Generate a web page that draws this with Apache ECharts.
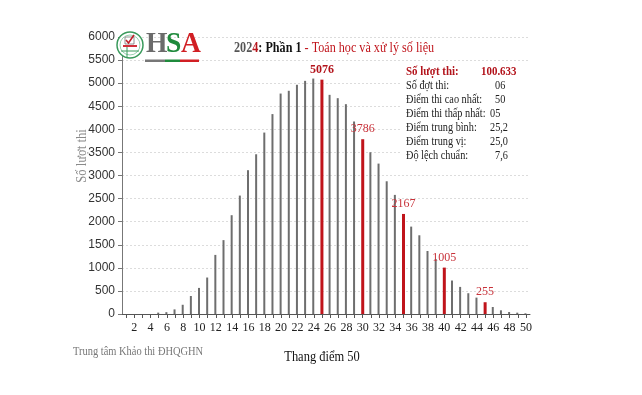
<!DOCTYPE html>
<html><head><meta charset="utf-8">
<script src="https://cdn.jsdelivr.net/npm/echarts@6/dist/echarts.min.js"></script>
<style>html,body{margin:0;padding:0;background:#fff}#c{width:642px;height:395px}</style>
</head><body><div id="c"></div>
<script>
const scores = [];
for (let i = 1; i <= 50; i++) scores.push(String(i));
const counts = [0,0,0,0,30,40,100,200,390,565,790,1280,1600,2140,2565,3115,3460,3930,4330,4775,4835,4965,5050,5100,5076,4747,4675,4545,4170,3786,3504,3258,2875,2580,2167,1893,1705,1365,1192,1005,725,587,450,355,255,152,80,43,29,15];
const highlighted = ['25','30','35','40','45'];
const yTicks = [0,500,1000,1500,2000,2500,3000,3500,4000,4500,5000,5500,6000];
const statLabels = ['Số lượt thi:','Số đợt thi:','Điểm thi cao nhất:','Điểm thi thấp nhất:','Điểm trung bình:','Điểm trung vị:','Độ lệch chuẩn:'];
const statValues = ['100.633','06','50','05','25,2','25,0','7,6'];

const serif = '"Liberation Serif", "DejaVu Serif", serif';
const grayData = scores.map((s,i)=> highlighted.includes(s) ? '-' : counts[i]);
const redData = scores.map((s,i)=> highlighted.includes(s)
  ? (s==='25' ? {value:counts[i], label:{fontWeight:'bold', color:'#b3141c', fontSize:12}} : counts[i])
  : '-');

const valueX = [481,495,495,490,490,490,495];
const graphics = [
  {type:'rect', shape:{x:400,y:63,width:128,height:100}, style:{fill:'#fff'}, z:5},
  // logo
  {type:'circle', shape:{cx:130,cy:45,r:13}, style:{fill:'#fff',stroke:'#3a9a5c',lineWidth:1.5}, z:10},
  {type:'circle', shape:{cx:130,cy:45,r:10}, style:{fill:'none',stroke:'#7cc49a',lineWidth:0.8}, z:10},
  {type:'rect', shape:{x:125,y:37,width:9,height:7}, style:{fill:'#fff',stroke:'#777',lineWidth:0.8}, z:10},
  {type:'polyline', shape:{points:[[126,40],[128.5,43],[134,35]]}, style:{stroke:'#c0202a',lineWidth:1.6,fill:'none'}, z:11},
  {type:'rect', shape:{x:123,y:45,width:14,height:2}, style:{fill:'#d0303a'}, z:10},
  {type:'line', shape:{x1:121,y1:51,x2:139,y2:51}, style:{stroke:'#3a9a5c',lineWidth:1}, z:10},
  {type:'line', shape:{x1:127,y1:47,x2:127,y2:57}, style:{stroke:'#3a9a5c',lineWidth:1}, z:10},
  {type:'text', x:146, y:59, scaleX:0.95, style:{text:'H', font:'bold 29px '+serif, fill:'#6b6b6b', textVerticalAlign:'bottom'}, z:10},
  {type:'text', x:166, y:59, scaleX:0.95, style:{text:'S', font:'bold 29px '+serif, fill:'#1f8a3c', textVerticalAlign:'bottom'}, z:10},
  {type:'text', x:181, y:59, scaleX:0.95, style:{text:'A', font:'bold 29px '+serif, fill:'#d11f24', textVerticalAlign:'bottom'}, z:10},
  {type:'rect', shape:{x:145,y:59.5,width:20,height:2.5}, style:{fill:'#777'}, z:10},
  {type:'rect', shape:{x:165,y:59.5,width:15,height:2.5}, style:{fill:'#1f8a3c'}, z:10},
  {type:'rect', shape:{x:180,y:59.5,width:19,height:2.5}, style:{fill:'#d11f24'}, z:10},
  // title
  {type:'text', x:234, y:48, scaleX:0.81, style:{
      text:'{a|202}{b|4}{c|: Phần 1}{d| - Toán học và xử lý số liệu}',
      textVerticalAlign:'middle',
      rich:{
        a:{font:'bold 15px '+serif, fill:'#555'},
        b:{font:'bold 15px '+serif, fill:'#b8141b'},
        c:{font:'bold 15px '+serif, fill:'#111'},
        d:{font:'15px '+serif, fill:'#c0141b'}
      }}, z:10},
  // footer
  {type:'text', x:73, y:352, scaleX:0.87, style:{text:'Trung tâm Khảo thi ĐHQGHN', font:'12px '+serif, fill:'#777', textVerticalAlign:'middle'}, z:10},
  {type:'text', x:322, y:357, scaleX:0.89, style:{text:'Thang điểm 50', font:'14px '+serif, fill:'#111', textAlign:'center', textVerticalAlign:'middle'}, z:10},
  {type:'text', x:82, y:156, rotation:Math.PI/2, scaleX:0.9, style:{text:'Số lượt thi', font:'14px '+serif, fill:'#8a8a8a', textAlign:'center', textVerticalAlign:'middle'}, z:10}
];
statLabels.forEach((t,i)=>{
  const y = 72 + i*14;
  const first = i===0;
  const sx = first ? 0.84 : 0.79;
  graphics.push({type:'text', x:406, y:y, scaleX:sx, style:{text:t, font:(first?'bold ':'')+'13px '+serif, fill:first?'#b3141c':'#222', textVerticalAlign:'middle'}, z:10});
  graphics.push({type:'text', x:valueX[i], y:y, scaleX:sx, style:{text:statValues[i], font:(first?'bold ':'')+'13px '+serif, fill:first?'#b3141c':'#222', textVerticalAlign:'middle'}, z:10});
});

const chart = echarts.init(document.getElementById('c'), null, {renderer:'canvas'});
chart.setOption({
  animation:false,
  backgroundColor:'#fff',
  grid:{left:122, right:112, top:37, bottom:81},
  xAxis:{
    type:'category', data:scores, boundaryGap:true,
    axisLine:{lineStyle:{color:'#555',width:1}},
    axisTick:{show:true, interval:0, alignWithLabel:true, length:4, lineStyle:{color:'#555'}},
    axisLabel:{interval:(idx)=> idx%2===1, color:'#222', fontFamily:serif, fontSize:12, margin:8}
  },
  yAxis:{
    type:'value', min:0, max:6000, interval:500,
    axisLine:{show:true, lineStyle:{color:'#777'}},
    axisTick:{show:true, length:4, lineStyle:{color:'#777'}},
    axisLabel:{color:'#333', fontFamily:'"Liberation Sans", Arial, sans-serif', fontSize:12, margin:7,
      formatter:(v)=> yTicks.includes(v) ? String(v) : ''},
    splitLine:{show:true, lineStyle:{color:'#dcdcdc', type:[2,2]}}
  },
  series:[
    {type:'bar', data:grayData, barWidth:2, itemStyle:{color:'#6e6e6e'}, z:2},
    {type:'bar', data:redData, barWidth:3, barGap:'-100%', itemStyle:{color:'#c0141b'}, z:3,
      label:{show:true, position:'top', distance:4, fontFamily:serif, fontSize:12, color:'#c8323a'}}
  ],
  graphic:graphics
});
</script>
</body></html>
